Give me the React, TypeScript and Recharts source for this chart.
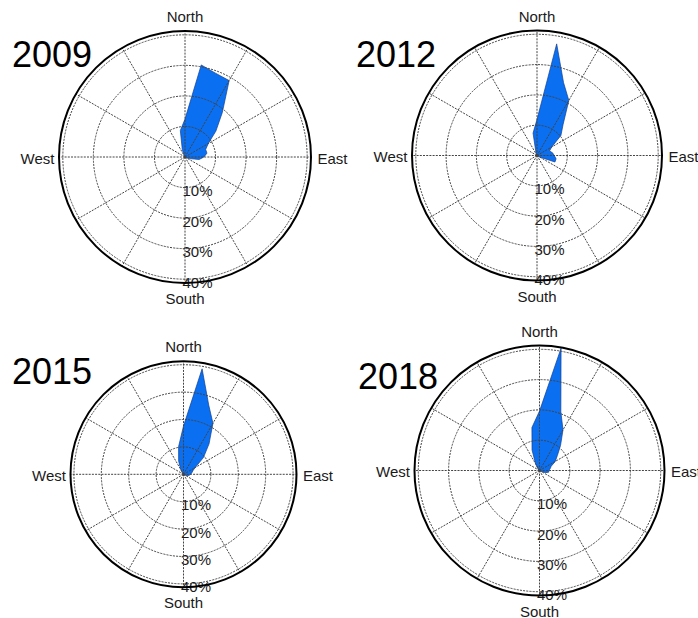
import { RadarChart, Radar, PolarGrid, PolarAngleAxis, PolarRadiusAxis } from 'recharts';

// Wind direction bins: 10° wide, compass bearing clockwise from north.
const DIRECTIONS = [
  0, 10, 20, 30, 40, 50, 60, 70, 80, 90, 100, 110, 120, 130, 140, 150, 160, 170,
  180, 190, 200, 210, 220, 230, 240, 250, 260, 270, 280, 290, 300, 310, 320, 330, 340, 350,
];

// Frequency of each direction, % of observations.
const FREQ_2009 = [
  12.4, 30.6, 29.2, 28.9, 19, 13.2, 8.8, 7.2, 7.3, 6.2, 4.7, 1.5, 0.5, 0, 0, 0, 0, 0,
  0, 0, 0, 0, 0, 0, 0, 0, 0, 0, 0, 0, 0, 0, 0, 0.5, 2.6, 8.8,
];
const FREQ_2012 = [
  11.9, 37.4, 25.6, 21, 13.4, 10.3, 5.6, 4.4, 5.2, 5.7, 6.4, 6.3, 1, 0, 0, 0, 0, 0,
  0, 0, 0, 0, 0, 0, 0, 0, 0, 0, 0, 0, 0, 0, 0, 0, 1, 7.5,
];
const FREQ_2015 = [
  17.6, 39.1, 26.9, 21.5, 14.5, 9.5, 4.9, 3.6, 3.1, 2.6, 2.1, 1.5, 0.5, 0, 0, 0, 0, 0,
  0, 0, 0, 0, 0, 0, 0, 0, 0, 0, 0, 0, 0, 0, 0.5, 2, 5.2, 10.3,
];
const FREQ_2018 = [
  19.6, 41, 20.6, 15.5, 10.8, 7.7, 6, 4.1, 3.6, 3.1, 3.1, 2.1, 0.5, 0, 0, 0, 0, 0,
  0, 0, 0, 0, 0, 0, 0, 0, 0, 0, 0, 0, 0, 0, 1, 2.6, 7.2, 14.4,
];

const YEARS = ['2009', '2012', '2015', '2018'];
const RING_TICKS = [10, 20, 30, 40];
const COMPASS: Record<number, string> = { 0: 'North', 90: 'East', 180: 'South', 270: 'West' };

// outer circle sits a little beyond the 40% ring
const R_MAX = 41.25;
const SPOKES = [0, 30, 60, 90, 120, 150, 180, 210, 240, 270, 300, 330];

const FONT = '"Liberation Sans", Arial, sans-serif';
const FILL = '#0a6ff0';
const EDGE = '#143f8f';
const GRID = '#444';
const INK = '#1a1a1a';

const BOX_W = 349;
const BOX_H = 309;

type Panel = { year: string; freq: number[]; left: number; top: number; cx: number; cy: number; r: number; titleX: number; titleY: number };

const PANELS: Panel[] = [
  { year: YEARS[0], freq: FREQ_2009, left: 0, top: 0, cx: 185, cy: 157, r: 126, titleX: 12, titleY: 67 },
  { year: YEARS[1], freq: FREQ_2012, left: 349, top: 0, cx: 188, cy: 155.5, r: 125, titleX: 356, titleY: 67 },
  { year: YEARS[2], freq: FREQ_2015, left: 0, top: 309, cx: 183.5, cy: 165.3, r: 113, titleX: 12, titleY: 384 },
  { year: YEARS[3], freq: FREQ_2018, left: 349, top: 309, cx: 190.5, cy: 161.5, r: 125, titleX: 358, titleY: 389 },
];

const CompassTick = (props: any) => {
  const { x, y, payload } = props;
  const label = COMPASS[payload.value];
  if (!label) return <g />;
  let tx = x;
  let ty = y;
  let anchor: 'start' | 'middle' | 'end' = 'middle';
  if (label === 'North') ty = y - 1;
  if (label === 'South') ty = y + 13;
  if (label === 'West') { tx = x + 3.5; ty = y + 6.5; anchor = 'end'; }
  if (label === 'East') { tx = x - 1.5; ty = y + 6.5; anchor = 'start'; }
  return (
    <text x={tx} y={ty} textAnchor={anchor} fontSize={15} fontFamily={FONT} fill={INK}>
      {label}
    </text>
  );
};

const RingTick = (props: any) => {
  const { x, y, payload } = props;
  return (
    <text x={x - 2.5} y={y + 8.5} textAnchor="start" fontSize={15} fontFamily={FONT} fill={INK}>
      {payload.value}%
    </text>
  );
};

function WindRose({ panel }: { panel: Panel }) {
  const rows = DIRECTIONS.map((dir, i) => ({ dir, freq: panel.freq[i] }));
  return (
    <div style={{ position: 'absolute', left: panel.left, top: panel.top, width: BOX_W, height: BOX_H }}>
      <RadarChart
        width={BOX_W}
        height={BOX_H}
        cx={panel.cx}
        cy={panel.cy}
        outerRadius={panel.r}
        data={rows}
        margin={{ top: 0, right: 0, bottom: 0, left: 0 }}
        style={{ overflow: 'visible' }}
      >
        <Radar
          dataKey="freq"
          fill={FILL}
          fillOpacity={1}
          stroke={EDGE}
          strokeWidth={0.7}
          dot={false}
          isAnimationActive={false}
        />
        {/* dotted grid is drawn over the petals */}
        <PolarGrid
          gridType="circle"
          polarAngles={SPOKES}
          stroke={GRID}
          strokeWidth={1}
          strokeDasharray="2 1.2"
          zIndex={600}
        />
        <PolarGrid gridType="circle" polarAngles={[]} polarRadius={[panel.r]} stroke="#000" strokeWidth={2} zIndex={600} />
        <PolarAngleAxis dataKey="dir" tick={CompassTick} tickLine={false} axisLine={false} />
        <PolarRadiusAxis
          angle={-90}
          domain={[0, R_MAX]}
          ticks={RING_TICKS}
          tick={RingTick}
          axisLine={false}
          tickLine={false}
        />
      </RadarChart>
    </div>
  );
}

export default function App() {
  return (
    <div style={{ position: 'absolute', left: 0, top: 0, width: 698, height: 618, background: '#fff', overflow: 'hidden' }}>
      {PANELS.map((p) => (
        <WindRose key={p.year} panel={p} />
      ))}
      <svg width={698} height={618} style={{ position: 'absolute', left: 0, top: 0, pointerEvents: 'none' }}>
        {PANELS.map((p) => (
          <text key={p.year} x={p.titleX} y={p.titleY} fontSize={36} fontFamily={FONT} fill="#000">
            {p.year}
          </text>
        ))}
      </svg>
    </div>
  );
}
